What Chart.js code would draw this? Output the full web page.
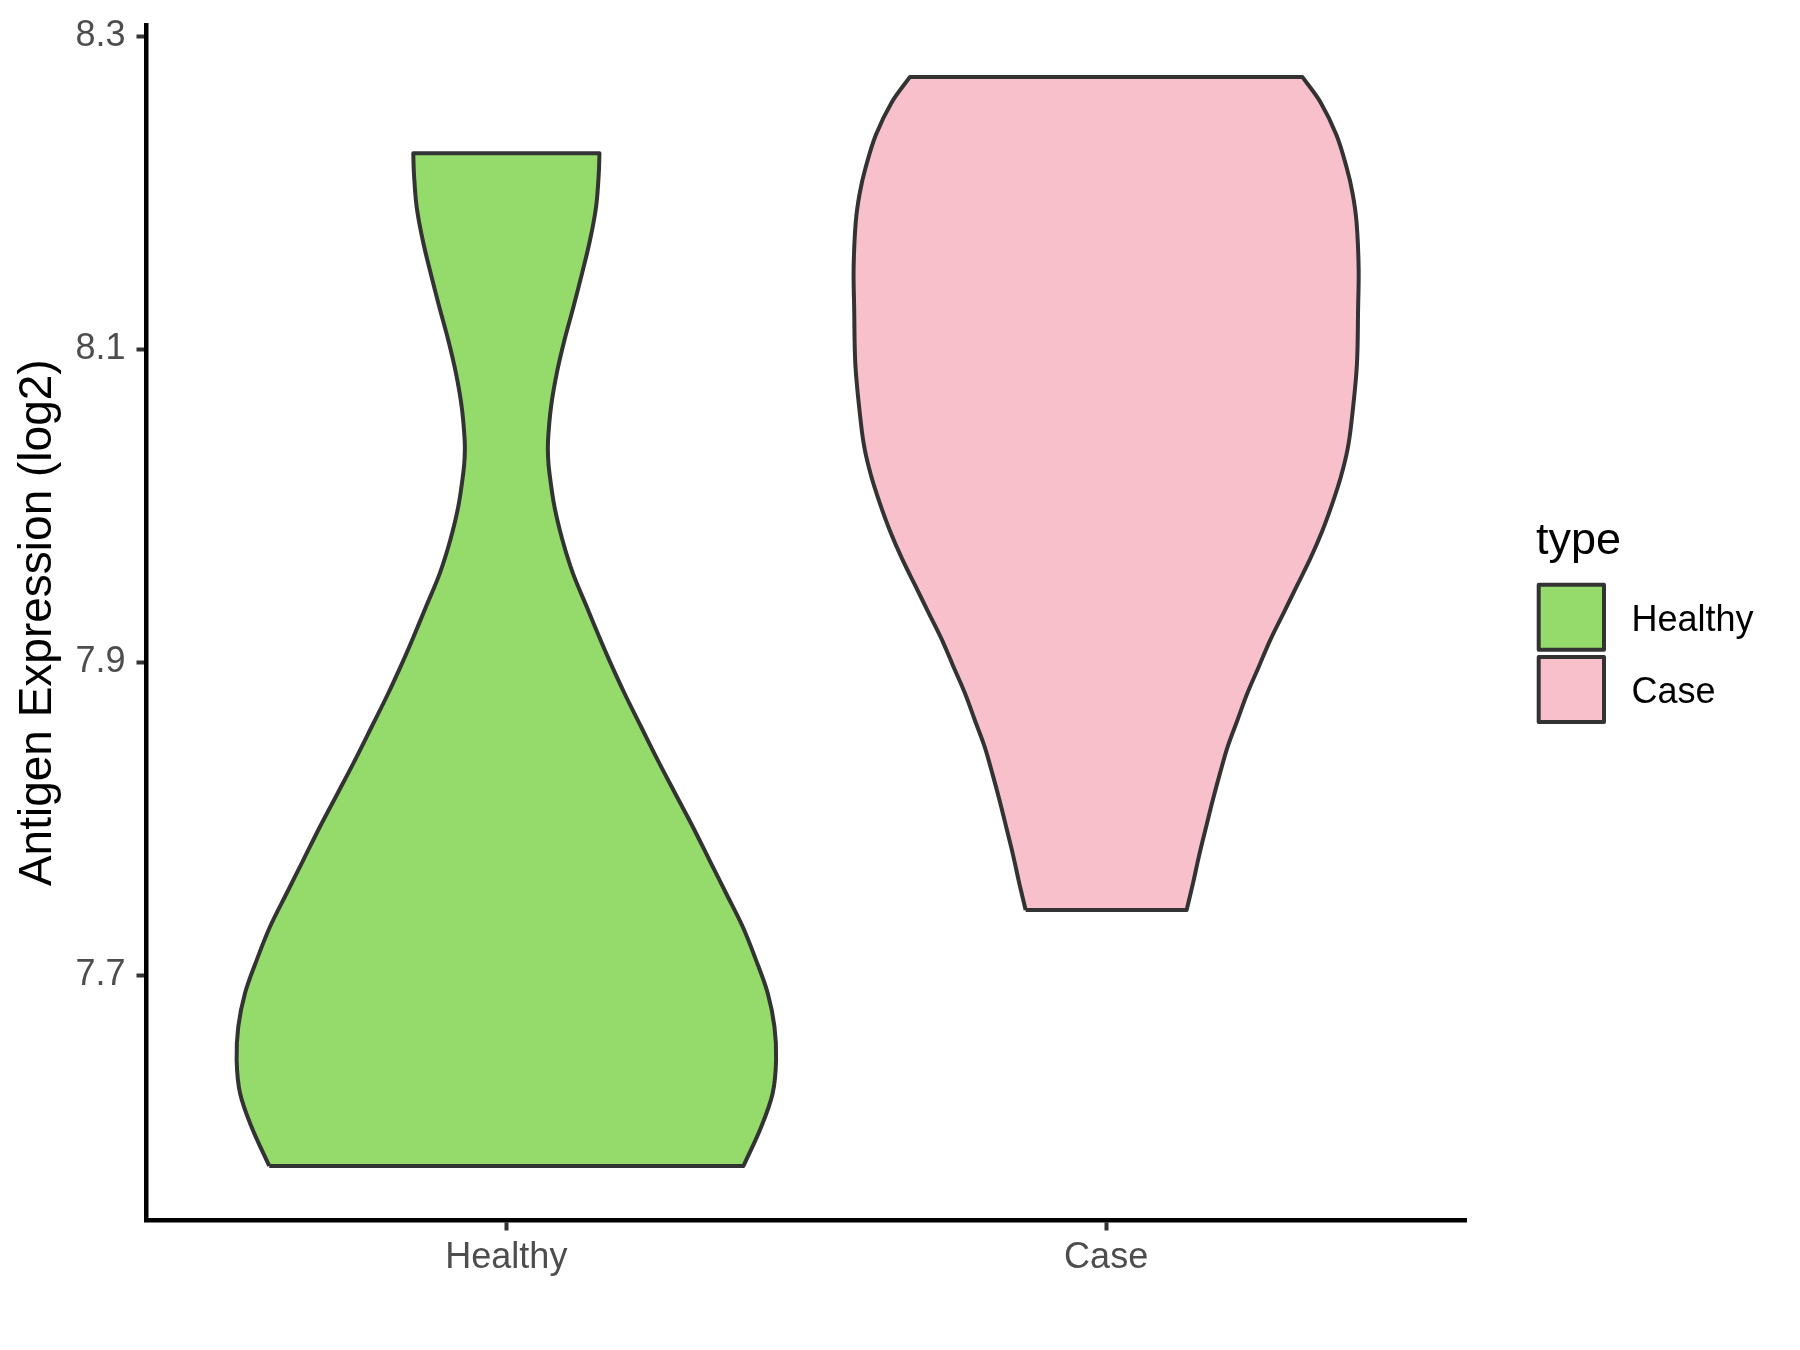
<!DOCTYPE html>
<html>
<head>
<meta charset="utf-8">
<script src="https://cdn.jsdelivr.net/npm/chart.js@4"></script>
<style>
  html, body { margin: 0; padding: 0; background: #ffffff; }
  #wrap { width: 1800px; height: 1350px; }
  canvas { display: block; }
</style>
</head>
<body>
<div id="wrap"><canvas id="c" width="1800" height="1350" style="width:1800px;height:1350px"></canvas></div>
<script>
// ---------- data ----------
const categories = ['Healthy', 'Case'];
const yTickValues = [7.7, 7.9, 8.1, 8.3];
const yAxisTitle = 'Antigen Expression (log2)';
const legendTitle = 'type';

// violin outline: expression level (bottom -> top) and half-width (in category units)
const healthyLevels = [7.5782, 7.6033, 7.6247, 7.6459, 7.6672, 7.6886, 7.7098, 7.7311, 7.7525, 7.7737,
  7.7950, 7.8164, 7.8376, 7.8589, 7.8803, 7.9015, 7.9143, 7.9356, 7.9569, 7.9782, 7.9995, 8.0208,
  8.0314, 8.0421, 8.0634, 8.0847, 8.1060, 8.1273, 8.1486, 8.1699, 8.1912, 8.2125, 8.2253];
const healthyHalfWidth = [0.3953, 0.4250, 0.4440, 0.4497, 0.4470, 0.4358, 0.4163, 0.3941, 0.3663, 0.3386,
  0.3108, 0.2813, 0.2524, 0.2246, 0.1969, 0.1715, 0.1570, 0.1340, 0.1110, 0.0935, 0.0802, 0.0719,
  0.0695, 0.0695, 0.0745, 0.0840, 0.0969, 0.1119, 0.1262, 0.1395, 0.1496, 0.1541, 0.1552];

const caseLevels = [7.7418, 7.7590, 7.7764, 7.7937, 7.8110, 7.8283, 7.8456, 7.8629, 7.8803, 7.8976,
  7.9149, 7.9322, 7.9495, 7.9668, 7.9842, 8.0015, 8.0188, 8.0361, 8.0534, 8.0896, 8.1263, 8.1520,
  8.1813, 8.1996, 8.2162, 8.2370, 8.2578, 8.2741];
const caseHalfWidth = [0.1342, 0.1449, 0.1549, 0.1659, 0.1771, 0.1892, 0.2021, 0.2187, 0.2354, 0.2549,
  0.2743, 0.2966, 0.3188, 0.3409, 0.3605, 0.3771, 0.3915, 0.4025, 0.4090, 0.4180, 0.4201, 0.4210,
  0.4175, 0.4110, 0.4010, 0.3840, 0.3576, 0.3271];

// ---------- styles ----------
const FONT = "'Liberation Sans', Arial, Helvetica, sans-serif";
const fillColors = ['#94DB6B', '#F7C0CB'];
const outlineColor = '#333333';

// closed outline; corner points are repeated so the smoothed line keeps flat top/bottom edges
function violinPoints(center, levels, hw) {
  const left = levels.map((v, i) => ({ x: center - hw[i], y: v }));
  const right = levels.map((v, i) => ({ x: center + hw[i], y: v })).reverse();
  const n = left.length;
  const pts = [];
  left.forEach((p, i) => { pts.push(p); if (i === n - 1) pts.push({ ...p }); });
  right.forEach((p, i) => { pts.push(p); if (i === 0 || i === n - 1) pts.push({ ...p }); });
  pts.push({ ...left[0] });
  return pts;
}

const series = [
  { name: categories[0], levels: healthyLevels, hw: healthyHalfWidth },
  { name: categories[1], levels: caseLevels, hw: caseHalfWidth }
];

const datasets = series.map((s, i) => ({
  label: s.name,
  data: violinPoints(i + 1, s.levels, s.hw),
  showLine: true,
  fill: 'shape',
  backgroundColor: fillColors[i],
  borderColor: outlineColor,
  borderWidth: 4,
  borderJoinStyle: 'round',
  pointRadius: 0,
  pointHoverRadius: 0,
  tension: 0.35
}));

const legendPlugin = {
  id: 'ggLegend',
  afterDraw(chart) {
    const ctx = chart.ctx;
    ctx.save();
    ctx.fillStyle = '#000000';
    ctx.textAlign = 'left';
    ctx.textBaseline = 'alphabetic';
    ctx.font = `45px ${FONT}`;
    ctx.fillText(legendTitle, 1536, 554);
    const keyX = 1538.7, keyW = 65.3, keyH = 65, keyY0 = 584.7, keyStep = 72.3;
    categories.forEach((name, i) => {
      const y = keyY0 + i * keyStep;
      ctx.fillStyle = fillColors[i];
      ctx.fillRect(keyX, y, keyW, keyH);
      ctx.lineWidth = 4;
      ctx.strokeStyle = outlineColor;
      ctx.lineJoin = 'round';
      ctx.strokeRect(keyX, y, keyW, keyH);
      ctx.fillStyle = '#000000';
      ctx.font = `36px ${FONT}`;
      ctx.fillText(name, 1631.5, y + 46);
    });
    ctx.restore();
  }
};

new Chart(document.getElementById('c'), {
  type: 'scatter',
  data: { datasets },
  options: {
    responsive: false,
    maintainAspectRatio: false,
    animation: false,
    devicePixelRatio: 1,
    layout: { padding: { left: 0, right: 334, top: 25, bottom: 0 } },
    plugins: {
      legend: { display: false },
      tooltip: { enabled: false },
      title: { display: false }
    },
    events: [],
    scales: {
      x: {
        type: 'linear',
        min: 0.4,
        max: 2.6,
        afterBuildTicks: (s) => { s.ticks = categories.map((c, i) => ({ value: i + 1 })); },
        afterFit: (s) => { s.height = 129.5; s.paddingLeft = 0; s.paddingRight = 0; },
        ticks: {
          callback: (v) => categories[Math.round(v) - 1],
          font: { family: FONT, size: 36 },
          color: '#4D4D4D',
          padding: 6,
          autoSkip: false,
          maxRotation: 0
        },
        grid: {
          display: true,
          drawOnChartArea: false,
          drawTicks: true,
          tickLength: 10,
          tickWidth: 4,
          tickColor: outlineColor
        },
        border: { display: true, color: '#000000', width: 4.5 }
      },
      y: {
        type: 'linear',
        min: 7.5434,
        max: 8.3073,
        afterBuildTicks: (s) => { s.ticks = yTickValues.map(v => ({ value: v })); },
        afterFit: (s) => { s.width = 146.5; s.paddingTop = 0; s.paddingBottom = 0; },
        ticks: {
          callback: (v) => Number(v).toFixed(1),
          font: { family: FONT, size: 36 },
          color: '#4D4D4D',
          padding: 11
        },
        grid: {
          display: true,
          drawOnChartArea: false,
          drawTicks: true,
          tickLength: 10,
          tickWidth: 4,
          tickColor: outlineColor
        },
        border: { display: true, color: '#000000', width: 4.5 },
        title: {
          display: true,
          text: yAxisTitle,
          font: { family: FONT, size: 46 },
          color: '#000000',
          padding: { top: 11, bottom: 0 }
        }
      }
    }
  },
  plugins: [legendPlugin]
});
</script>
</body>
</html>
